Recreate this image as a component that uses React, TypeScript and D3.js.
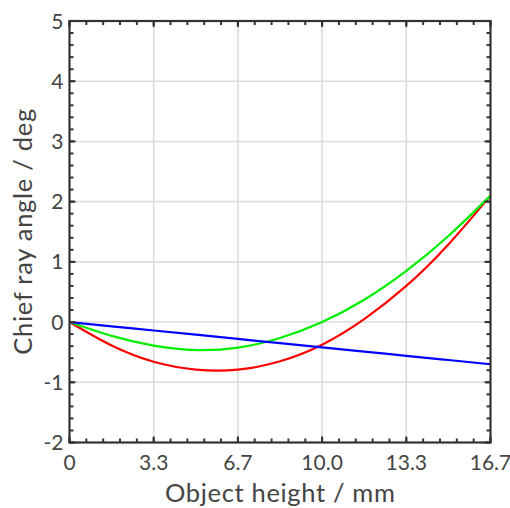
import React from "react";
import * as d3 from "d3";

const xTicks = [0, 10 / 3, 20 / 3, 10, 40 / 3, 50 / 3];
const xTickLabels = ["0", "3.3", "6.7", "10.0", "13.3", "16.7"];
const yTicks = [-2, -1, 0, 1, 2, 3, 4, 5];
const yTickLabels = ["-2", "-1", "0", "1", "2", "3", "4", "5"];

const heights = [0, 1.667, 3.333, 5.0, 6.667, 8.333, 10.0, 11.667, 13.333, 15.0, 16.667];
const redValues = [0, -0.39, -0.66, -0.79, -0.79, -0.65, -0.375, 0.05, 0.6, 1.29, 2.1];
const greenValues = [0, -0.23, -0.39, -0.465, -0.425, -0.265, 0.0, 0.37, 0.85, 1.43, 2.1];
const blueValues = [0, -0.07, -0.14, -0.21, -0.28, -0.35, -0.42, -0.49, -0.56, -0.63, -0.7];

const series = [
  { name: "red", color: "#ff0000", values: redValues },
  { name: "green", color: "#00ee00", values: greenValues },
  { name: "blue", color: "#0000ff", values: blueValues },
];

const W = 510;
const H = 508;
const m = { left: 69.5, right: 490.5, top: 21, bottom: 442.5 };
const font = "Lato, 'Noto Sans', sans-serif";
const textColor = "#444";

export default function App() {
  const x = d3.scaleLinear().domain([0, 50 / 3]).range([m.left, m.right]);
  const y = d3.scaleLinear().domain([-2, 5]).range([m.bottom, m.top]);

  const xMinor = d3.range(0, 26).map((i) => (i * 50) / 3 / 25);
  const yMinor = d3.range(0, 36).map((i) => -2 + i * 0.2);

  const line = d3
    .line<number>()
    .x((_, i) => x(heights[i]))
    .y((d) => y(d))
    .curve(d3.curveNatural);

  return (
    <svg width={W} height={H} style={{ position: "absolute", left: 0, top: 0 }}>
      <rect x={0} y={0} width={W} height={H} fill="#fff" />
      {/* grid */}
      {xTicks.slice(1, -1).map((t, i) => (
        <line key={"gx" + i} x1={x(t)} x2={x(t)} y1={m.top} y2={m.bottom} stroke="#dcdcdc" strokeWidth={1.6} />
      ))}
      {yTicks.slice(1, -1).map((t, i) => (
        <line key={"gy" + i} x1={m.left} x2={m.right} y1={y(t)} y2={y(t)} stroke="#dcdcdc" strokeWidth={1.6} />
      ))}
      {/* curves */}
      {series.map((s) => (
        <path key={s.name} d={line(s.values) || ""} fill="none" stroke={s.color} strokeWidth={2.2} />
      ))}
      {/* minor ticks */}
      {xMinor.map((t, i) => (
        <g key={"mx" + i}>
          <line x1={x(t)} x2={x(t)} y1={m.bottom} y2={m.bottom - 4} stroke="#333" strokeWidth={2} />
          <line x1={x(t)} x2={x(t)} y1={m.top} y2={m.top + 4} stroke="#333" strokeWidth={2} />
        </g>
      ))}
      {yMinor.map((t, i) => (
        <g key={"my" + i}>
          <line x1={m.left} x2={m.left + 4} y1={y(t)} y2={y(t)} stroke="#333" strokeWidth={2} />
          <line x1={m.right} x2={m.right - 4} y1={y(t)} y2={y(t)} stroke="#333" strokeWidth={2} />
        </g>
      ))}
      {/* major ticks */}
      {xTicks.map((t, i) => (
        <g key={"Mx" + i}>
          <line x1={x(t)} x2={x(t)} y1={m.bottom} y2={m.bottom - 6} stroke="#333" strokeWidth={2} />
          <line x1={x(t)} x2={x(t)} y1={m.top} y2={m.top + 6} stroke="#333" strokeWidth={2} />
        </g>
      ))}
      {yTicks.map((t, i) => (
        <g key={"My" + i}>
          <line x1={m.left} x2={m.left + 6} y1={y(t)} y2={y(t)} stroke="#333" strokeWidth={2} />
          <line x1={m.right} x2={m.right - 6} y1={y(t)} y2={y(t)} stroke="#333" strokeWidth={2} />
        </g>
      ))}
      {/* frame */}
      <rect x={m.left} y={m.top} width={m.right - m.left} height={m.bottom - m.top} fill="none" stroke="#333" strokeWidth={2.2} />
      {/* tick labels */}
      {xTicks.map((t, i) => (
        <text key={"lx" + i} x={x(t)} y={m.bottom + 27} textAnchor="middle" fontFamily={font} fontSize={21} fill={textColor}>
          {xTickLabels[i]}
        </text>
      ))}
      {yTicks.map((t, i) => (
        <text key={"ly" + i} x={m.left - 6} y={y(t) + 7.5} textAnchor="end" fontFamily={font} fontSize={21} fill={textColor}>
          {yTickLabels[i]}
        </text>
      ))}
      {/* axis titles */}
      <text x={(m.left + m.right) / 2} y={502} textAnchor="middle" fontFamily={font} fontSize={25.5} fill={textColor}
        textLength={230} lengthAdjust="spacing">
        Object height / mm
      </text>
      <text
        transform={`translate(32, ${(m.top + m.bottom) / 2}) rotate(-90)`}
        textAnchor="middle"
        fontFamily={font}
        fontSize={25.5}
        fill={textColor}
        textLength={246}
        lengthAdjust="spacing"
      >
        Chief ray angle / deg
      </text>
    </svg>
  );
}
